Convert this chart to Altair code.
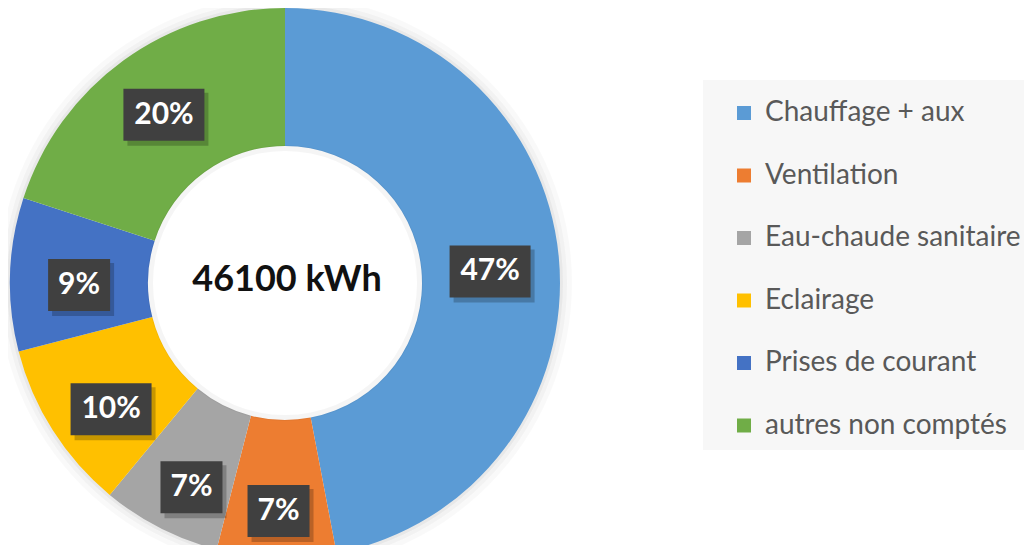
import altair as alt
import pandas as pd

categories = ["Chauffage + aux", "Ventilation", "Eau-chaude sanitaire",
              "Eclairage", "Prises de courant", "autres non comptés"]
shares = [47, 7, 7, 10, 9, 20]
colors = ["#5B9BD5", "#ED7D31", "#A5A5A5", "#FFC000", "#4472C4", "#70AD47"]
total_label = "46100 kWh"

df = pd.DataFrame({"cat": categories, "share": shares, "idx": list(range(len(categories)))})

CX, CY = 277, 275
R_OUT, R_IN = 275, 137
RLX, RLY, LOY = 206, 219, 9
W, H = 1016, 537

base = alt.Chart(df)
one = alt.Chart(pd.DataFrame({"k": [0]}))

halos = []
for r1, r2, op in [(R_OUT - 1, R_OUT + 3, 0.09), (R_OUT + 3, R_OUT + 7, 0.05),
                   (R_OUT + 7, R_OUT + 12, 0.025)]:
    halos.append(one.mark_arc(theta=0, theta2=6.2832, radius=r2, radius2=r1,
                              color="#000000", opacity=op).encode(x=alt.value(CX), y=alt.value(CY)))

inner_shade = one.mark_arc(theta=0, theta2=6.2832, radius=R_IN + 1, radius2=R_IN - 5,
                           color="#000000", opacity=0.04).encode(x=alt.value(CX), y=alt.value(CY))

arcs = base.mark_arc(outerRadius=R_OUT, innerRadius=R_IN).encode(
    theta=alt.Theta("share:Q", stack=True),
    order=alt.Order("idx:Q", sort="ascending"),
    color=alt.Color("cat:N", sort=categories,
                    scale=alt.Scale(domain=categories, range=colors),
                    legend=alt.Legend(title=None, orient="none", legendX=722, legendY=91,
                                      symbolType="square", symbolSize=196, symbolStrokeWidth=0,
                                      labelFont="Lato", labelFontSize=28, labelColor="#595959",
                                      labelOffset=7, rowPadding=34.5, padding=0, labelLimit=400)),
    x=alt.value(CX), y=alt.value(CY),
)

legend_bg = one.mark_rect(color="#F7F7F7").encode(
    x=alt.value(695), x2=alt.value(W + 20), y=alt.value(72), y2=alt.value(442))

center = one.mark_text(text=total_label, font="Lato", fontWeight="bold", fontSize=36,
                       color="#111111").encode(x=alt.value(CX + 2), y=alt.value(CY - 3))

lab = base.transform_joinaggregate(total="sum(share)").transform_window(
    cum="sum(share)", sort=[alt.SortField("idx")], frame=[None, 0]
).transform_calculate(
    label="datum.share + '%'",
    mid="(datum.cum - datum.share / 2) / datum.total * 2 * PI",
).transform_calculate(
    lx=f"{CX} + {RLX} * sin(datum.mid)",
    ly=f"{CY + LOY} - {RLY} * cos(datum.mid)",
    hw="12 + 9.5 * length(datum.label)",
).transform_calculate(
    bx1="datum.lx - datum.hw", bx2="datum.lx + datum.hw",
    by1="datum.ly - 26", by2="datum.ly + 26",
    sx1="datum.lx - datum.hw + 4", sx2="datum.lx + datum.hw + 4",
    sy1="datum.ly - 22", sy2="datum.ly + 31",
)

shadow = lab.mark_rect(color="#000000", opacity=0.22).encode(
    x=alt.X("sx1:Q", scale=None, axis=None), x2="sx2:Q",
    y=alt.Y("sy1:Q", scale=None, axis=None), y2="sy2:Q")
boxes = lab.mark_rect(color="#404040").encode(
    x=alt.X("bx1:Q", scale=None, axis=None), x2="bx2:Q",
    y=alt.Y("by1:Q", scale=None, axis=None), y2="by2:Q")
texts = lab.mark_text(font="Lato", fontWeight="bold", fontSize=30, color="white").encode(
    x=alt.X("lx:Q", scale=None, axis=None),
    y=alt.Y("ly:Q", scale=None, axis=None),
    text="label:N")

chart = alt.layer(legend_bg, *halos, arcs, inner_shade, center, shadow, boxes, texts).properties(
    width=W, height=H, padding=0, autosize=alt.AutoSizeParams(type="none"),
    background="white"
).configure_view(stroke=None)

chart.save("out.html", embed_options={"renderer": "svg", "actions": False})
